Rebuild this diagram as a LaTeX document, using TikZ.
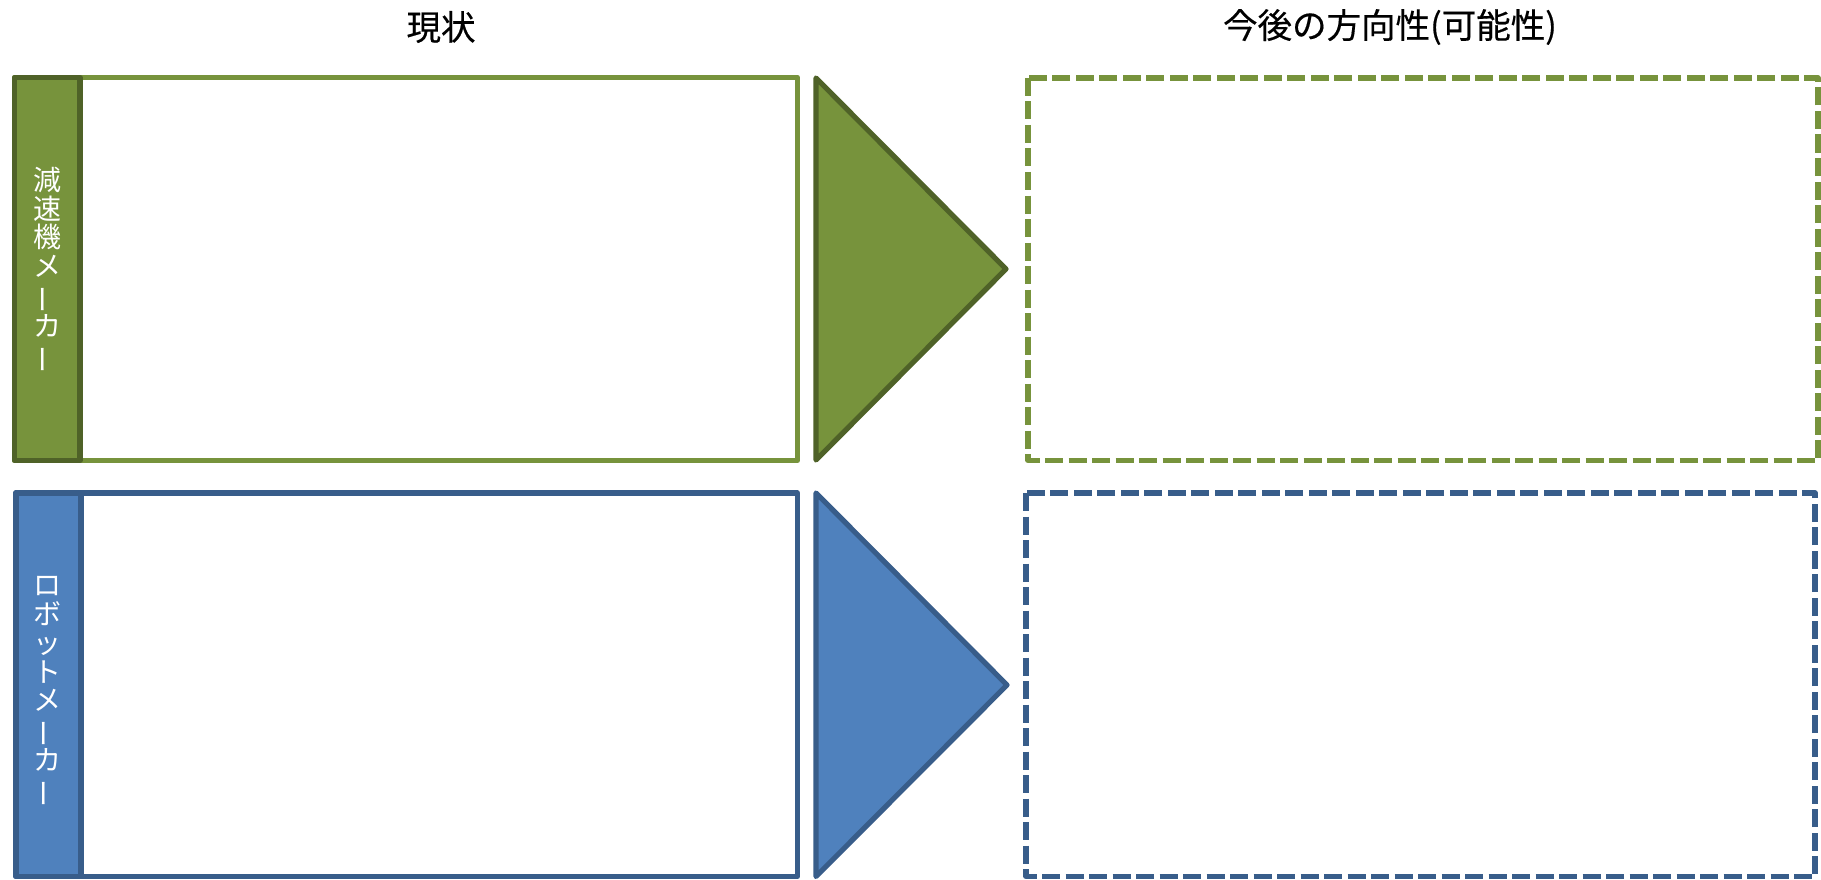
\documentclass[tikz,border=0pt]{standalone}
\usepackage{fontspec}
\usepackage{graphicx}
\setmainfont{Noto Sans CJK JP}
\newfontfamily\cjk{Noto Sans CJK JP}
\newfontfamily\cjkb[FakeBold=0.4]{Noto Sans CJK JP}
\definecolor{gfill}{HTML}{77933C}
\definecolor{gdark}{HTML}{4F6228}
\definecolor{bfill}{HTML}{4F81BD}
\definecolor{bdark}{HTML}{385D8A}
\newcommand{\vbar}{\rotatebox[origin=c]{90}{ー}}
\tikzset{
  frame/.style={line width=5.2pt, line join=round, fill=white},
  barbox/.style={line width=5.2pt, line join=round},
  dashframe/.style={line width=5.2pt, line join=round, dash pattern=on 18pt off 5.5pt},
  tri/.style={line width=5.2pt, line join=round},
  title/.style={font=\cjkb\fontsize{34.5}{38}\selectfont, text=black, inner sep=0pt},
  vlabel/.style={font=\cjk\fontsize{28}{28.8}\selectfont, text=white, align=center, inner sep=0pt}
}
\begin{document}
\begin{tikzpicture}[x=1pt,y=-1pt]
\useasboundingbox (0,0) rectangle (1821,880);
% titles
\node[title] (t1) at (441,27) {現状};
\node[title] (t2) at (1390,27) {今後の方向性(可能性)};
% top row
\draw[frame, draw=gfill] (14.5,77.5) rectangle (797.5,460.5);
\draw[barbox, draw=gdark, fill=gfill] (14.5,77.5) rectangle (80,460.5);
\node[vlabel] (l1) at (47,270) {減\\速\\機\\メ\\\vbar\\カ\\\vbar};
\draw[tri, draw=gdark, fill=gfill] (816,78) -- (1006,269) -- (816,460) -- cycle;
\draw[dashframe, draw=gfill] (1028,78) rectangle (1818,460.5);
% bottom row
\draw[frame, draw=bdark] (16,493) rectangle (797.5,876.5);
\draw[barbox, draw=bdark, fill=bfill] (16,493) rectangle (81,876.5);
\node[vlabel] (l2) at (48,692) {ロ\\ボ\\ッ\\ト\\メ\\\vbar\\カ\\\vbar};
\draw[tri, draw=bdark, fill=bfill] (816,493) -- (1007,685) -- (816,876.5) -- cycle;
\draw[dashframe, draw=bdark] (1026,493) rectangle (1815,876.5);
\end{tikzpicture}
\end{document}
